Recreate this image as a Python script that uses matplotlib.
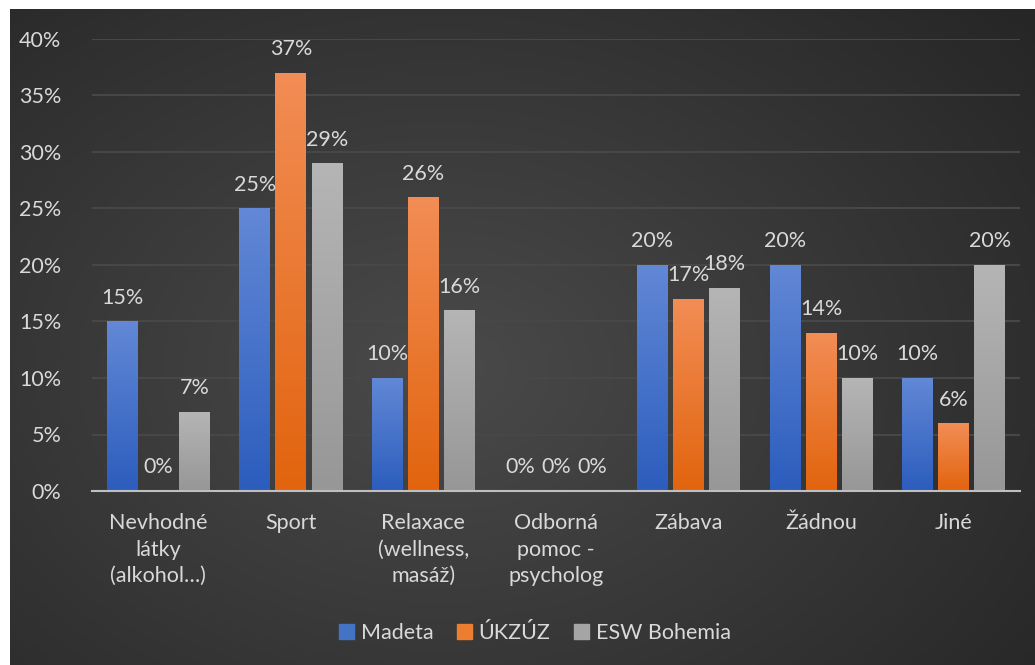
import numpy as np
import matplotlib
matplotlib.use("Agg")
import matplotlib.pyplot as plt
from matplotlib.colors import LinearSegmentedColormap
from matplotlib.patches import Rectangle

categories = ["Nevhodné\nlátky\n(alkohol…)", "Sport", "Relaxace\n(wellness,\nmasáž)",
              "Odborná\npomoc -\npsycholog", "Zábava", "Žádnou", "Jiné"]
series_names = ["Madeta", "ÚKZÚZ", "ESW Bohemia"]
madeta = [15, 25, 10, 0, 20, 20, 10]
ukzuz = [0, 37, 26, 0, 17, 14, 6]
esw = [7, 29, 16, 0, 18, 10, 20]
yticks = [0, 5, 10, 15, 20, 25, 30, 35, 40]

top_cols = ["#6288d6", "#f28d55", "#b5b5b5"]
bot_cols = ["#2c5dbd", "#e2640e", "#979797"]
legend_cols = ["#4472c4", "#ed7d31", "#a5a5a5"]
txt = "#d9d9d9"

plt.rcParams['font.family'] = ['Lato', 'DejaVu Sans']
FS = 15.5

W, H = 1035, 665
fig = plt.figure(figsize=(W / 100, H / 100), dpi=100)
fig.patch.set_facecolor("white")

# background radial gradient
bg = fig.add_axes([10 / W, 0, 1 - 10 / W, 1 - 9 / H])
bg.set_axis_off()
ny, nx = 300, 460
yy, xx = np.mgrid[0:ny, 0:nx]
cx, cy = nx * 0.42, ny * 0.55
r = np.sqrt(((xx - cx) / (nx * 0.75)) ** 2 + ((yy - cy) / (ny * 0.85)) ** 2)
r = np.clip(r, 0, 1)
bgcmap = LinearSegmentedColormap.from_list("bg", ["#4a4a4a", "#262626"])
bg.imshow(r, cmap=bgcmap, aspect="auto", extent=[0, 1, 0, 1], vmin=0, vmax=1)
bg.set_xlim(0, 1); bg.set_ylim(0, 1)

left, right = 92, 1020
bottom_px, top_px = 491, 39
ax = fig.add_axes([left / W, 1 - bottom_px / H, (right - left) / W, (bottom_px - top_px) / H])
ax.patch.set_alpha(0)
n = len(categories)
x = np.arange(n)

bw = 0.232
step = 0.272
data = [madeta, ukzuz, esw]
gvals = np.linspace(1, 0, 100).reshape(-1, 1)
for i, vals in enumerate(data):
    cmap = LinearSegmentedColormap.from_list(f"c{i}", [bot_cols[i], top_cols[i]])
    xs = x + (i - 1) * step
    bars = ax.bar(xs, vals, width=bw, color=legend_cols[i], zorder=3, label=series_names[i])
    for b, v in zip(bars, vals):
        if v > 0:
            x0 = b.get_x()
            im = ax.imshow(gvals, cmap=cmap, aspect="auto",
                           extent=[x0, x0 + bw, 0, v], zorder=3.5, vmin=0, vmax=1)
            im.set_clip_path(b)
        ax.text(b.get_x() + bw / 2, v + 1.2, f"{v}%", ha="center", va="bottom",
                color=txt, fontsize=FS, zorder=5)

ax.set_xlim(-0.5, n - 0.5)
ax.set_ylim(0, 40)
ax.set_yticks(yticks)
ax.set_yticklabels([f"{t}%" for t in yticks], color=txt, fontsize=FS)
ax.set_xticks(x)
ax.set_xticklabels(categories, color=txt, fontsize=FS, linespacing=1.4)
ax.tick_params(axis="both", length=0)
ax.tick_params(axis="y", pad=22)
ax.tick_params(axis="x", pad=16)
ax.grid(axis="y", color="#474747", linewidth=1.5, zorder=0)
ax.set_axisbelow(True)
for s in ["top", "right", "left"]:
    ax.spines[s].set_visible(False)
ax.spines["bottom"].set_color("#bfbfbf")
ax.spines["bottom"].set_linewidth(1.5)
ax.spines["bottom"].set_zorder(6)

handles = [Rectangle((0, 0), 1, 1, color=c) for c in legend_cols]
leg = fig.legend(handles, series_names, loc="center", bbox_to_anchor=(535 / W, 1 - 633 / H),
                 ncol=3, frameon=False, fontsize=FS, handlelength=0.7, handleheight=0.7,
                 handletextpad=0.3, columnspacing=1.1)
for t in leg.get_texts():
    t.set_color(txt)

fig.savefig("out.png", dpi=100, facecolor=fig.get_facecolor())
